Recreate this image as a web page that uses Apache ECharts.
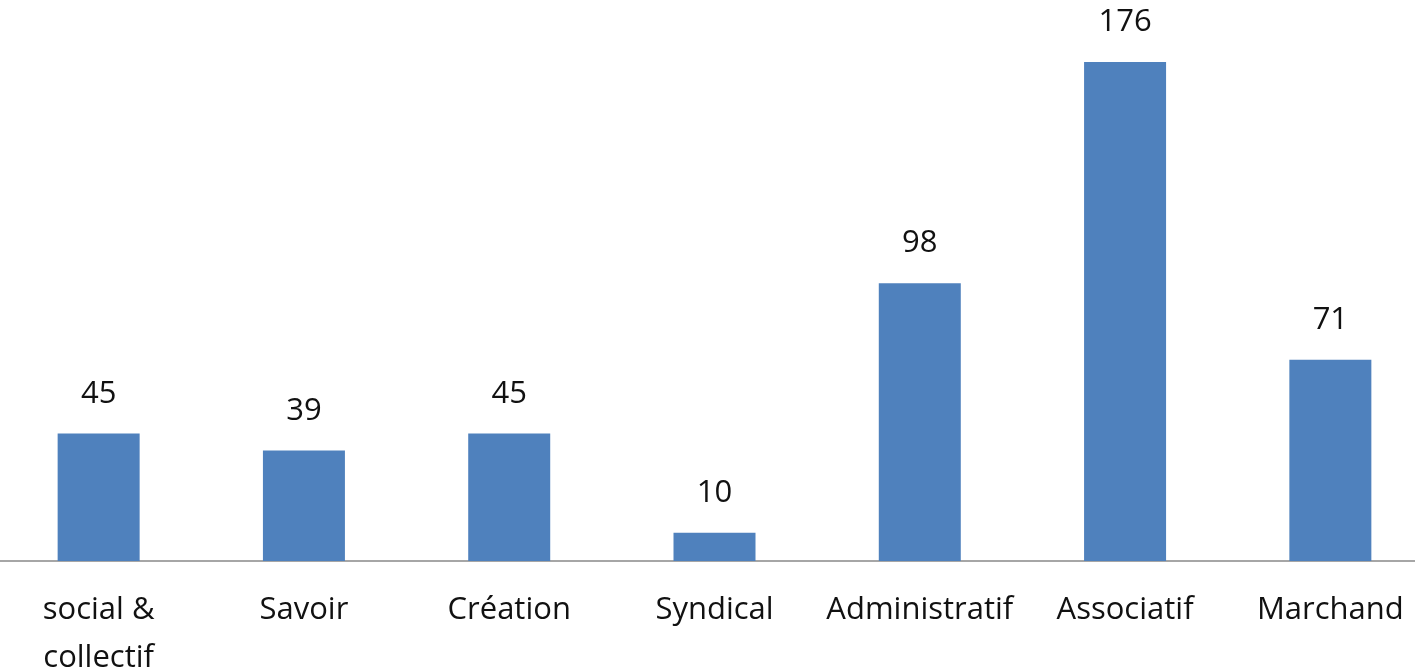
<!DOCTYPE html>
<html>
<head>
<meta charset="utf-8">
<script src="https://cdn.jsdelivr.net/npm/echarts@6/dist/echarts.min.js"></script>
<style>html,body{margin:0;padding:0;background:#fff}#c{width:1415px;height:671px}</style>
</head>
<body>
<div id="c"></div>
<script>
const categories = ["social &\ncollectif", "Savoir", "Création", "Syndical", "Administratif", "Associatif", "Marchand"];
const values = [45, 39, 45, 10, 98, 176, 71];

const chart = echarts.init(document.getElementById('c'), null, {renderer: 'canvas'});
chart.setOption({
  animation: false,
  grid: {left: -4, right: -18, top: 62, bottom: 110, containLabel: false, outerBoundsMode: 'none'},
  xAxis: {
    type: 'category',
    data: categories,
    axisLine: {lineStyle: {color: '#a6a6a6', width: 2}},
    axisTick: {show: false},
    axisLabel: {
      interval: 0,
      margin: 25,
      fontFamily: 'Open Sans',
      fontSize: 31,
      color: '#111',
      lineHeight: 48
    }
  },
  yAxis: {
    type: 'value',
    min: 0,
    max: 176,
    show: false,
    splitLine: {show: false}
  },
  series: [{
    type: 'bar',
    data: values,
    barWidth: 82,
    itemStyle: {color: '#4f81bd'},
    label: {
      show: true,
      position: 'top',
      distance: 24,
      fontFamily: 'Open Sans',
      fontSize: 31,
      color: '#111'
    }
  }]
});
</script>
</body>
</html>
